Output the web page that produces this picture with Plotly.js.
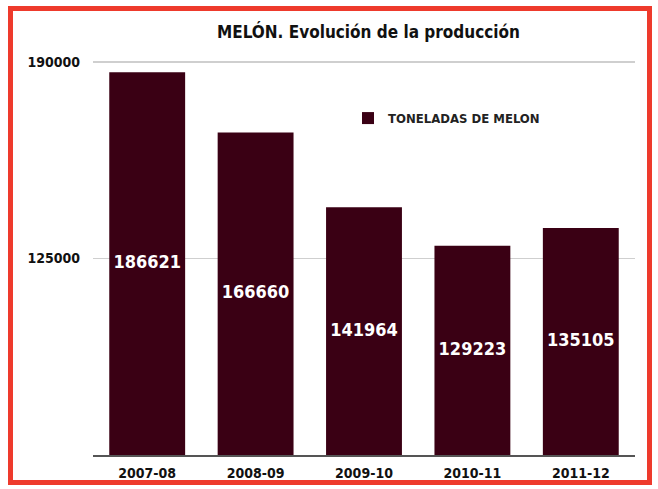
<!DOCTYPE html>
<html>
<head>
<meta charset="utf-8">
<script src="https://cdn.plot.ly/plotly-3.0.1.min.js"></script>
<style>
  html, body { margin:0; padding:0; background:#fff; }
  #wrap { position:relative; width:658px; height:489px; }
  #chart { width:658px; height:489px; }
  #frame { position:absolute; left:8px; top:6px; width:634px; height:469px;
           border:5px solid #ee3a2c; pointer-events:none; }
</style>
</head>
<body>
<div id="wrap">
  <div id="chart"></div>
  <div id="frame"></div>
</div>
<script>
const titleText = "MELÓN. Evolución de la producción";
const seriesName = "TONELADAS DE MELON";
const campaigns = ["2007-08", "2008-09", "2009-10", "2010-11", "2011-12"];
const tonnes = [186621, 166660, 141964, 129223, 135105];
const yTickVals = [125000, 190000];
const yTickText = ["125000", "190000"];

const FONT = "DejaVu Sans Condensed, DejaVu Sans, sans-serif";
const BAR = "#3a0014";
const Y_MIN = 60000, Y_MAX = 193000;

const barTrace = {
  type: "bar",
  x: campaigns,
  y: tonnes,
  name: seriesName,
  marker: { color: BAR, line: { width: 0 } },
  showlegend: true
};

// value labels centred in the visible part of each bar
const labelTrace = {
  type: "scatter",
  mode: "text",
  x: campaigns,
  y: tonnes.map(v => (Y_MIN + v) / 2),
  text: tonnes.map(String),
  textposition: "middle center",
  textfont: { family: FONT, size: 18, color: "#ffffff", weight: "bold" },
  showlegend: false,
  hoverinfo: "skip"
};

const layout = {
  width: 658, height: 489,
  margin: { l: 93, r: 23, t: 53, b: 34 },
  paper_bgcolor: "#ffffff",
  plot_bgcolor: "#ffffff",
  title: {
    text: titleText,
    font: { family: FONT, size: 17, color: "#111", weight: "bold" },
    x: 0.56, xanchor: "center", y: 0.935, yanchor: "middle"
  },
  bargap: 0.3,
  showlegend: true,
  legend: {
    x: 0.4705, xanchor: "left", y: 0.838, yanchor: "middle",
    bgcolor: "rgba(0,0,0,0)",
    font: { family: FONT, size: 13, color: "#222", weight: "bold" }
  },
  xaxis: {
    type: "category",
    range: [-0.5, 4.5],
    showgrid: false,
    showline: true, linecolor: "#555", linewidth: 2,
    ticks: "",
    ticklabelstandoff: 4,
    tickfont: { family: FONT, size: 14, color: "#111", weight: "bold" },
    fixedrange: true
  },
  yaxis: {
    range: [Y_MIN, Y_MAX],
    tickvals: yTickVals,
    ticktext: yTickText,
    showgrid: true, gridcolor: "#cfcfcf", gridwidth: 1.5,
    zeroline: false, showline: false,
    ticks: "",
    ticklabelstandoff: 12,
    tickfont: { family: FONT, size: 14, color: "#111", weight: "bold" },
    fixedrange: true
  }
};

Plotly.newPlot("chart", [barTrace, labelTrace], layout, { displayModeBar: false, staticPlot: true });
</script>
</body>
</html>
